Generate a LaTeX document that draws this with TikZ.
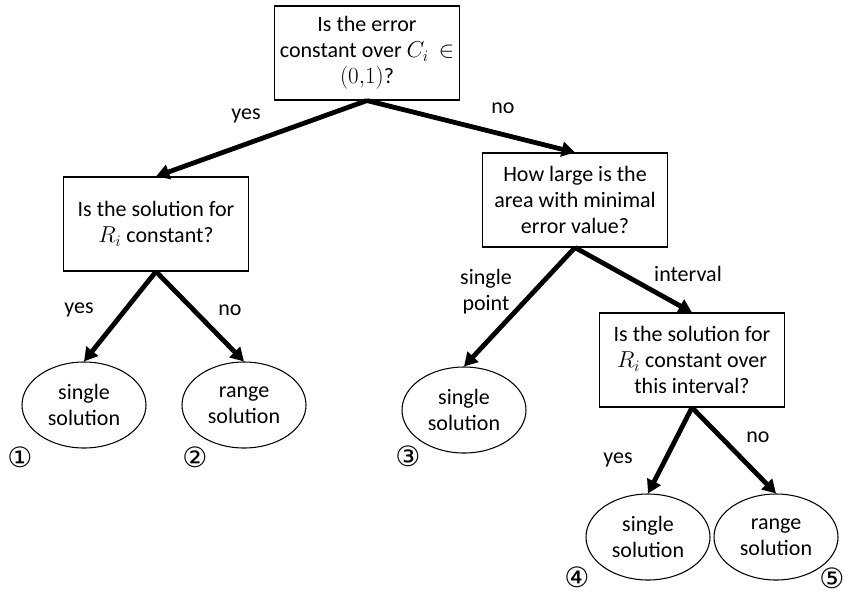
\documentclass[tikz,border=0pt]{standalone}
\usepackage{fontspec}
\setmainfont{Carlito}
\newfontfamily\circfont{DejaVu Sans}
\usetikzlibrary{arrows.meta, positioning, shapes.geometric}

\tikzset{
  question/.style={draw, line width=0.8pt, minimum width=138.75pt, minimum height=70.5pt, align=center, inner sep=2pt},
  answer/.style={draw, ellipse, line width=0.8pt, minimum width=93pt, minimum height=64.5pt, align=center, inner sep=0pt},
  branch/.style={line width=3.6pt, -{Triangle[length=10pt,width=11pt]}},
  lbl/.style={align=center},
  num/.style={font=\circfont\fontsize{21}{21}\selectfont, inner sep=0pt}
}

\begin{document}
\begin{tikzpicture}[x=0.75pt, y=-0.75pt, font=\fontsize{16.5}{19.5}\selectfont]
  \useasboundingbox (0,0) rectangle (846,597);
  % questions
  \node[question] (qerror) at (367,53) {Is the error\\constant over $C_i$\ \ $\in$\\$(0{,}1)$?};
  \node[question] (qconst) at (156,224) {Is the solution for\\$R_i$ constant?};
  \node[question] (qarea) at (575,200) {How large is the\\area with minimal\\error value?};
  \node[question] (qinterval) at (692,360) {Is the solution for\\$R_i$ constant over\\this interval?};
  % solutions
  \node[answer] (sol1) at (84,405) {single\\solution};
  \node[answer] (sol2) at (244,405) {range\\solution};
  \node[answer] (sol3) at (464,410) {single\\solution};
  \node[answer] (sol4) at (648,537) {single\\solution};
  \node[answer] (sol5) at (776,537) {range\\solution};
  % branches
  \draw[branch] (qerror.south) -- (qconst.north);
  \draw[branch] (qerror.south) -- (qarea.north);
  \draw[branch] (qconst.south) -- (sol1.north);
  \draw[branch] (qconst.south) -- (sol2.north);
  \draw[branch] (qarea.south) -- (sol3.north);
  \draw[branch] (qarea.south) -- (qinterval.north);
  \draw[branch] (qinterval.south) -- (sol4.north);
  \draw[branch] (qinterval.south) -- (sol5.north);
  % branch labels
  \node[lbl] (yesA) at (246,116) {yes};
  \node[lbl] (noA) at (503,108) {no};
  \node[lbl] (yesB) at (79,310) {yes};
  \node[lbl] (noB) at (230,310) {no};
  \node[lbl] (pointC) at (486,292) {single\\point};
  \node[lbl] (intervalC) at (688,274) {interval};
  \node[lbl] (yesD) at (618,460) {yes};
  \node[lbl] (noD) at (758,437) {no};
  % case numbers
  \node[num] (n1) at (20,457) {①};
  \node[num] (n2) at (195,457) {②};
  \node[num] (n3) at (408,456) {③};
  \node[num] (n4) at (577,577) {④};
  \node[num] (n5) at (832,578) {⑤};
\end{tikzpicture}
\end{document}
